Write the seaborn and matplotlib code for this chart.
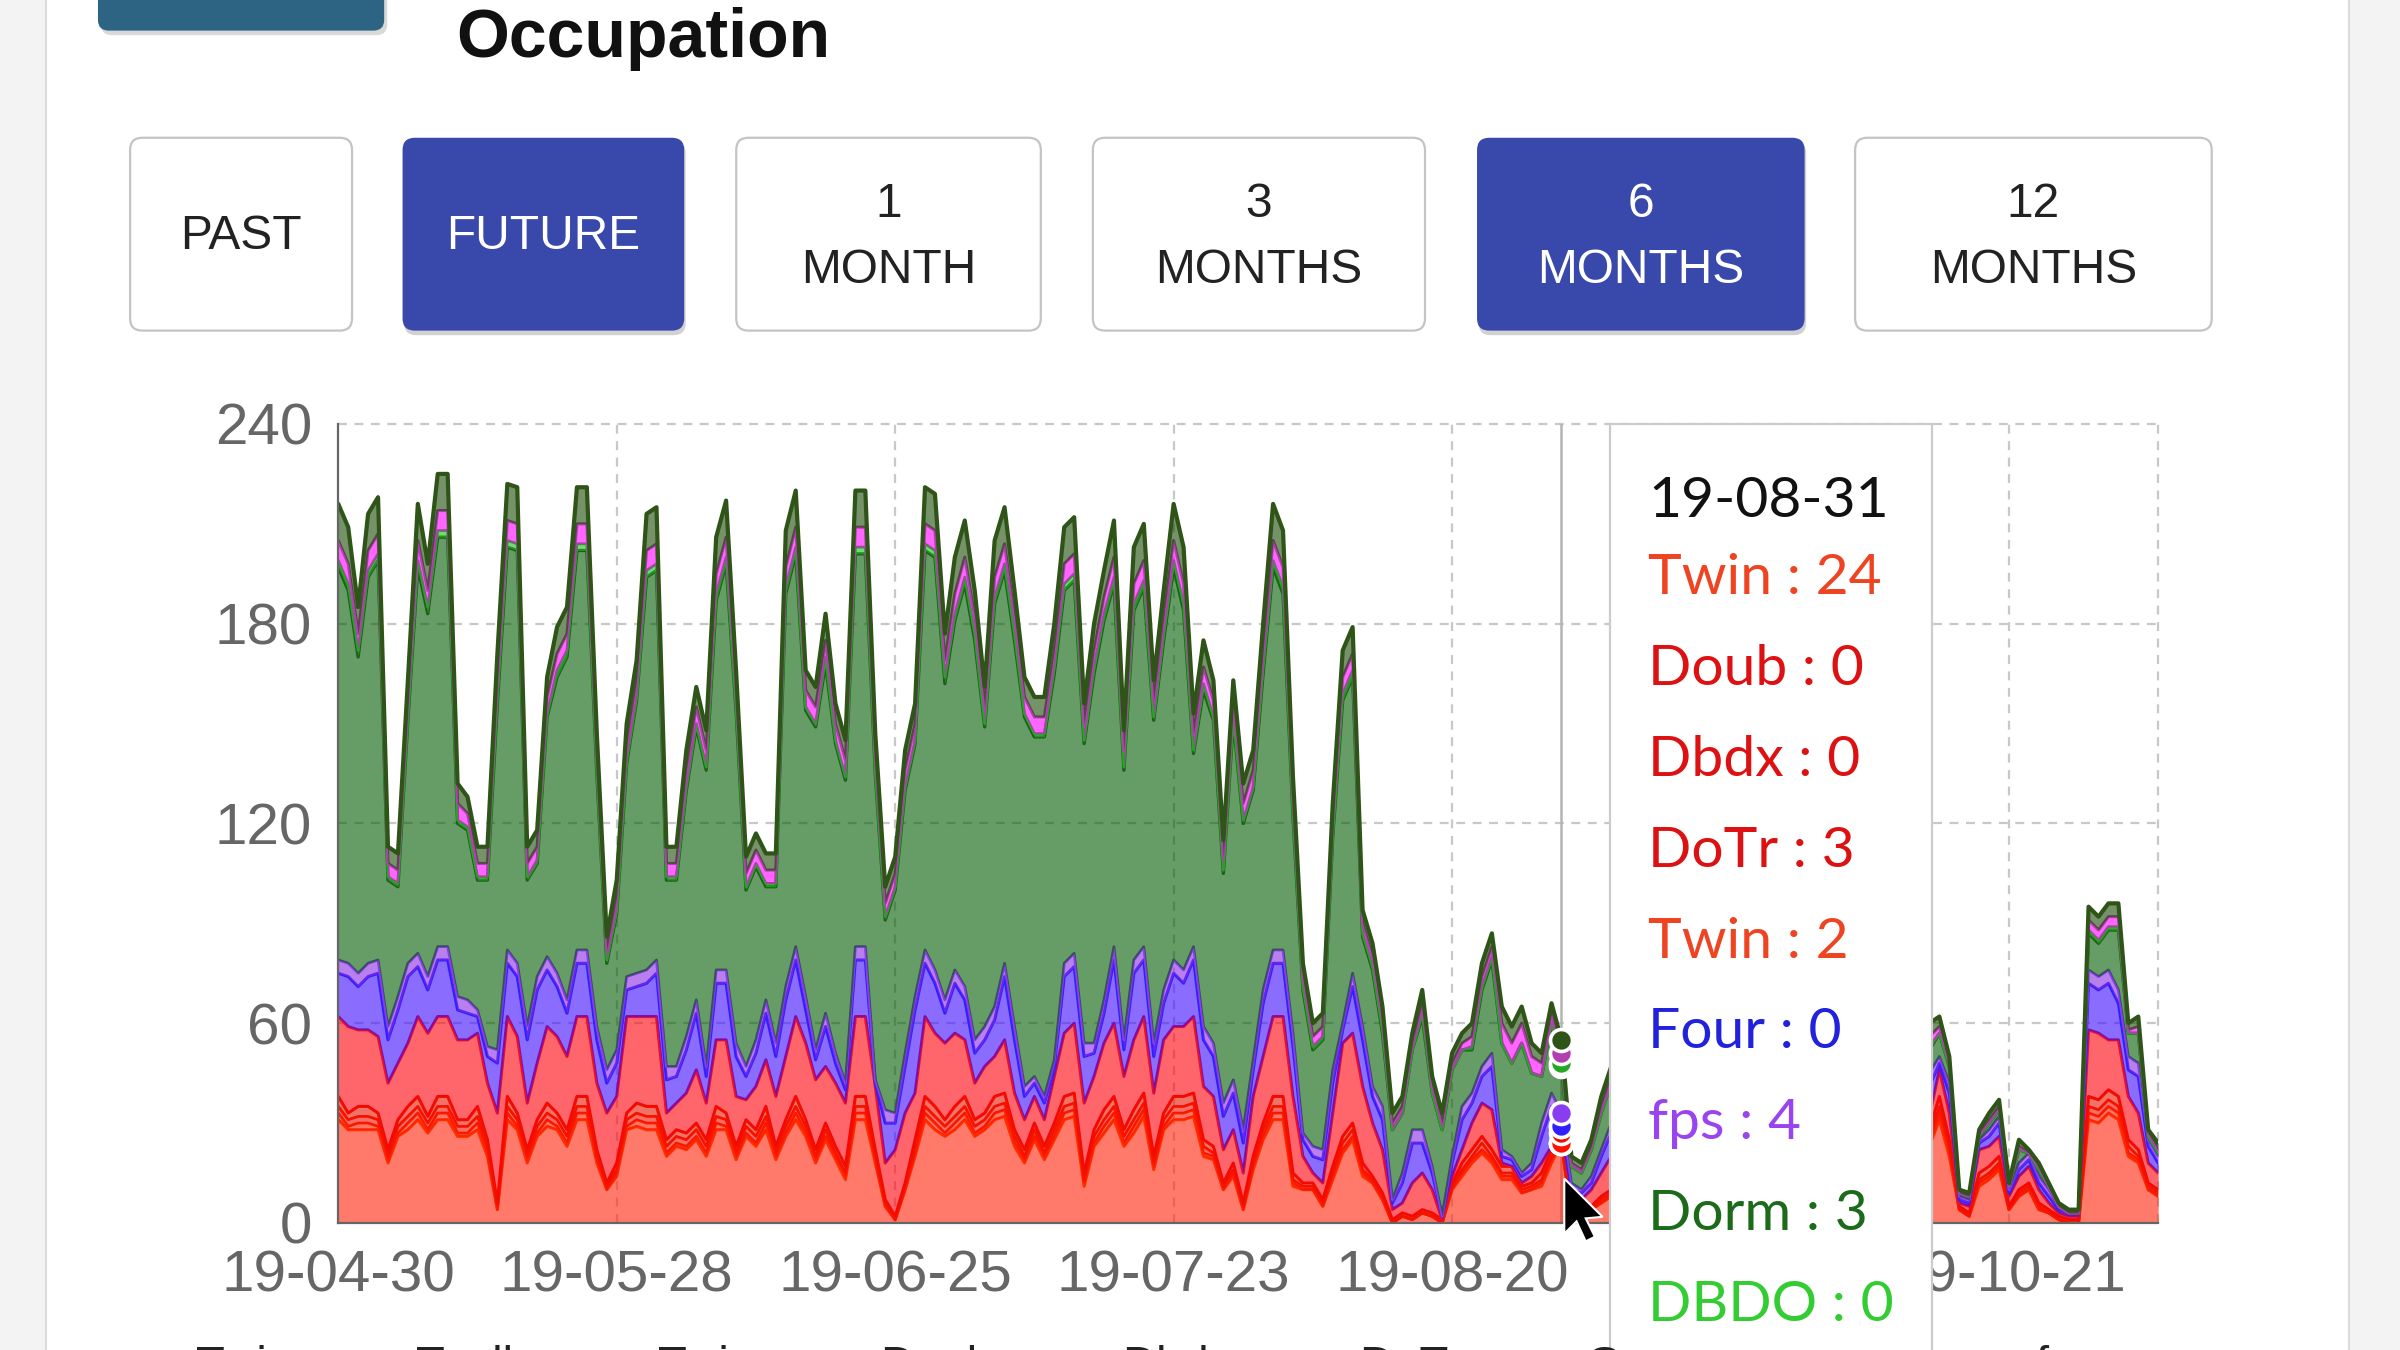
import numpy as np
import matplotlib
matplotlib.use("Agg")
import matplotlib.pyplot as plt
from matplotlib.patches import FancyBboxPatch, Rectangle, Polygon
import seaborn as sns

# daily stacked occupation, 184 days starting 19-04-30 (bottom layer first)
twin_a = [31,28,28,28,28,18,26,28,31,27, 31,31,26,26,28,20,4,31,28,18,
          26,29,28,23,31,31,18,10,14,28, 29,28,28,20,23,22,25,20,28,28,
          19,26,23,28,19,26,31,26,18,25, 19,13,31,31,18,5,1,10,20,31,
          28,26,28,31,26,28,31,32,23,18, 25,19,25,31,32,11,23,27,31,23,
          27,32,16,28,31,31,32,20,19,10, 14,4,16,25,31,31,11,10,10,5,
          13,21,25,14,12,7,0,2,1,3, 2,0,10,14,18,21,18,13,13,9,
          10,11,18,24,2,2,4,6,8,12, 12,10,7,5,9,11,13,11,8,6,
          10,12,14,12,8,6,10,12,14,12, 9,7,11,13,15,11,9,7,10,11,
          23,31,20,4,2,11,13,16,4,8, 10,4,3,1,0,0,31,30,33,31,
          20,18,10,8]
doub = [2,1,2,2,1,1,1,2,2,1, 2,2,1,1,2,1,0,2,1,1, 1,2,1,1,2,2,1,0,1,1,
        2,2,2,1,1,1,1,1,2,1, 1,1,1,2,1,1,2,1,1,1, 1,1,2,2,1,0,0,0,1,2,
        2,1,2,2,1,1,2,2,1,1, 1,1,1,2,2,1,1,2,2,1, 2,2,1,1,2,2,2,1,1,0,
        1,0,1,1,2,2,1,0,0,0, 1,1,1,1,0,0,0,0,0,0, 0,0,0,1,1,1,1,1,1,0,
        0,1,1,0,0,0,0,0,0,0, 1,0,0,0,0,1,1,0,0,0, 0,1,1,0,0,0,0,1,1,0,
        0,0,0,1,1,1,0,0,0,1, 1,2,1,0,0,1,1,1,0,0, 0,0,0,0,0,0,2,2,2,2,
        1,1,0,0]
dbdx = [2,2,2,2,2,1,2,2,2,2, 2,2,2,2,2,2,1,2,2,1, 2,2,2,2,2,2,1,1,1,2,
        2,2,2,2,2,2,2,2,2,2, 1,2,2,2,1,2,2,2,1,2, 1,1,2,2,1,1,0,1,2,2,
        2,2,2,2,2,2,2,2,2,1, 2,1,2,2,2,1,2,2,2,2, 2,2,1,2,2,2,2,2,1,1,
        1,1,1,2,2,2,1,1,1,1, 1,2,2,1,1,1,0,0,0,0, 0,0,1,1,1,2,1,1,1,1,
        1,1,1,0,0,0,0,1,1,1, 1,1,1,1,1,1,1,1,1,1, 1,1,1,1,1,1,1,1,1,1,
        1,1,1,1,1,1,1,1,1,1, 2,2,2,0,0,1,1,1,0,1, 1,1,0,0,0,0,2,2,2,2,
        2,1,1,1]
dotr = [3,2,3,3,2,2,2,3,3,2, 3,3,2,2,3,2,1,3,2,2, 2,3,2,2,3,3,2,1,2,2,
        3,3,3,2,2,2,2,2,3,2, 2,2,2,3,2,2,3,2,2,2, 2,2,3,3,2,1,1,1,2,3,
        3,2,3,3,2,2,3,3,2,2, 2,2,2,3,3,2,2,3,3,2, 3,3,2,2,3,3,3,2,2,1,
        2,1,2,2,3,3,2,1,1,1, 2,2,2,2,1,1,1,1,1,1, 1,1,1,2,2,2,2,2,2,1,
        1,2,2,3,1,1,1,1,1,1, 2,1,1,1,1,2,2,1,1,1, 1,2,2,1,1,1,1,2,2,1,
        1,1,1,2,2,2,1,1,1,2, 2,3,2,1,1,2,2,2,1,1, 1,1,1,1,1,1,3,3,3,3,
        2,2,1,1]
twin_b = [24,26,23,23,23,20,17,19,24,25, 24,24,24,24,22,17,27,24,23,14,
          17,23,23,22,24,24,20,21,20,29, 26,27,27,8,8,12,16,11,20,22,
          15,6,13,14,15,19,24,23,21,17, 19,19,24,24,19,11,20,21,14,24,
          22,23,22,17,11,14,12,16,11,9, 8,8,14,19,21,21,16,20,22,16,
          21,23,19,22,21,21,23,16,15,10, 10,9,18,20,24,24,23,8,3,5,
          16,28,27,23,16,13,3,3,10,11, 7,0,2,4,8,10,12,1,0,1,
          2,3,1,2,5,4,5,7,10,11, 12,10,7,5,8,11,13,10,7,5,
          9,12,13,10,8,6,10,12,14,11, 8,6,10,12,14,11,9,7,10,12,
          4,8,8,1,2,7,6,6,3,4, 5,4,2,1,1,1,20,20,15,17,
          13,11,6,5]
four = [13,15,13,16,19,13,16,20,15,13, 17,17,9,8,5,8,15,16,18,19,
        22,17,15,13,16,16,13,9,10,8, 9,10,13,10,8,13,17,8,17,17,
        12,7,10,14,12,17,17,10,6,12, 6,4,17,17,1,12,8,14,25,16,
        15,9,15,12,9,8,11,19,16,7, 4,5,3,17,17,14,7,9,19,8,
        20,17,11,11,16,13,17,14,12,10, 11,9,8,16,16,16,15,5,5,7,
        9,4,14,14,8,9,2,6,12,9, 5,1,4,9,6,8,13,2,2,2,
        2,8,12,0,2,2,2,5,7,7, 8,7,5,4,6,8,8,7,5,5,
        6,8,9,8,6,5,7,8,9,8, 6,5,7,8,9,8,6,5,7,8,
        9,2,6,1,1,2,3,4,1,2, 2,2,2,1,1,1,14,13,17,11,
        8,11,5,3]
fps = [4,4,4,4,4,4,4,4,4,4, 4,4,4,4,2,3,4,4,4,4, 4,4,4,4,4,4,4,4,4,4,
       4,4,4,4,3,4,4,3,4,4, 4,3,4,4,4,4,4,4,3,4, 3,2,4,4,1,4,3,4,4,4,
       4,4,4,4,4,4,4,4,4,3, 2,2,2,4,4,4,3,4,4,3, 4,4,4,4,4,4,4,4,4,4,
       4,4,3,4,4,4,4,2,3,3, 4,2,4,4,3,4,1,3,4,4, 2,0,2,4,3,3,4,2,1,1,
       2,4,4,4,2,1,2,2,3,3, 4,3,3,2,3,4,4,3,3,2, 3,4,4,3,3,3,3,4,4,3,
       3,2,3,4,4,3,3,3,3,3, 4,2,3,1,1,1,2,2,1,2, 2,2,2,1,0,0,4,4,4,4,
       4,4,2,2]
dorm = [118,112,95,116,120,44,33,73,116,109, 123,123,52,51,39,50,104,121,124,44,
        34,72,89,103,120,120,76,32,41,64, 82,118,117,56,56,74,82,89,111,122,
        100,53,52,34,47,118,118,86,97,105, 93,91,118,118,92,57,67,79,76,120,
        124,95,105,121,120,90,121,118,116,111, 102,108,116,112,112,90,111,114,109,81,
        105,108,97,105,118,108,58,101,97,69, 108,92,81,95,115,107,65,43,29,33,
        70,97,89,27,35,22,21,18,24,34, 22,26,26,17,13,23,28,32,28,39,
        27,14,21,14,5,5,8,11,12,15, 14,13,9,7,12,15,14,14,10,7,
        13,12,14,15,10,8,13,14,15,15, 11,9,14,14,16,16,11,9,13,15,
        7,7,5,1,1,1,2,2,1,4, 0,2,1,0,0,0,11,10,12,18,
        7,9,1,1]
dbdo = [2,2,2,2,2,1,1,1,2,2, 2,2,1,1,1,1,2,2,2,1, 1,1,2,2,2,2,1,1,1,1,
        1,2,2,1,1,1,1,1,2,2, 1,1,1,1,1,2,2,1,1,2, 1,1,2,2,1,1,1,1,1,2,
        2,2,2,2,2,1,2,2,2,1, 1,1,2,2,2,1,2,2,2,1, 2,2,1,2,2,2,1,2,1,1,
        1,1,1,2,2,2,1,1,1,1, 1,2,2,1,1,1,0,0,0,1, 0,0,0,0,1,1,1,0,0,0,
        0,0,0,1,0,0,0,0,0,0, 1,0,0,0,0,0,1,0,0,0, 0,1,1,0,0,0,0,1,1,0,
        0,0,0,1,1,0,0,0,0,0, 1,0,0,0,0,0,0,0,0,0, 0,0,0,0,0,0,1,1,1,1,
        0,0,0,0]
trip = [6,6,5,6,6,4,4,5,6,5, 6,6,5,4,4,4,5,6,6,4, 4,5,5,5,6,6,5,3,4,5,
        5,6,6,4,4,5,5,5,6,6, 5,4,4,4,4,6,6,5,5,5, 5,5,6,6,5,4,4,5,5,6,
        6,5,6,6,5,5,6,6,5,5, 5,5,5,6,6,5,5,5,6,5, 6,6,5,5,6,6,5,5,5,4,
        5,5,5,5,6,6,5,3,3,3, 4,5,5,3,3,3,2,2,2,3, 2,2,2,2,3,3,3,6,6,6,
        5,4,3,3,1,1,1,2,2,2, 3,2,2,2,2,2,3,2,2,2, 2,3,3,2,2,2,2,3,3,2,
        2,2,2,3,3,2,2,2,2,2, 3,2,1,0,0,1,1,1,0,1, 0,1,0,0,0,0,3,3,3,3,
        1,2,1,1]
tail = [11,11,8,11,11,5,5,6,11,8, 11,11,6,5,5,5,8,11,11,5, 5,6,8,8,11,11,6,4,5,6,
        6,11,11,5,5,6,6,6,11,11, 6,5,5,5,5,11,11,6,6,8, 6,6,11,11,6,5,5,6,6,11,
        11,8,11,11,8,6,11,11,8,6, 6,6,8,11,11,6,8,8,11,6, 11,11,6,8,11,11,6,8,6,5,
        6,6,6,8,11,11,6,4,4,4, 5,8,8,4,4,4,3,3,3,4, 3,3,3,3,4,4,4,5,5,5,
        4,3,3,4,2,2,2,3,3,3, 4,3,3,3,3,3,4,3,3,3, 3,4,4,3,3,3,3,4,4,3,
        3,3,3,4,4,3,3,3,3,3, 4,3,2,1,1,1,2,2,1,2, 1,1,1,1,1,1,4,4,4,4,
        2,3,1,2]

series = [twin_a, doub, dbdx, dotr, twin_b, four, fps, dorm, dbdo, trip, tail]
fill_colors = ["#ff2208", "#ff1a00", "#f01000", "#e81400", "#ff0008", "#3c0cff",
               "#8a2be2", "#005c00", "#22bb22", "#ff00ff", "#1a4a05"]
line_colors = ["#ff3300", "#ff2200", "#ff1100", "#ee1100", "#e8102a", "#3020ff",
               "#8a3cf0", "#1f5e1a", "#22a822", "#b040b0", "#2f5418"]
line_widths = [2.2, 2.0, 2.0, 2.2, 2.2, 2.2, 2.0, 2.4, 2.0, 2.2, 3.0]

x_tick_pos = [0, 28, 56, 84, 112, 140, 168]
x_tick_labels = ["19-04-30", "19-05-28", "19-06-25", "19-07-23", "19-08-20", "19-09-17", "19-10-21"]
y_ticks = [0, 60, 120, 180, 240]

hover_idx = 123
tip_date = "19-08-31"
tip_labels = ["Twin : 24", "Doub : 0", "Dbdx : 0", "DoTr : 3", "Twin : 2",
              "Four : 0", "fps : 4", "Dorm : 3", "DBDO : 0"]
tip_colors = ["#ee4422", "#dd1111", "#dd1111", "#dd1111", "#ee4422",
              "#2222dd", "#9944ee", "#1b6b1b", "#33cc33"]

buttons = ["PAST", "FUTURE", "1\nMONTH", "3\nMONTHS", "6\nMONTHS", "12\nMONTHS"]
button_on = [False, True, False, False, True, False]
button_x = [(85, 230), (263, 447), (481, 680), (714, 931), (965, 1179), (1212, 1445)]

legend_labels = ["Twin", "Twdb", "Twin", "Doub", "Dbdx", "DoTr", "Grup", "fps"]
legend_x = [128, 272, 430, 575, 733, 888, 1036, 1330]

sns.set_theme(style="white")
plt.rcParams["font.family"] = ["Liberation Sans", "DejaVu Sans"]

W, H = 1568, 882  # layout in screen units
fig = plt.figure(figsize=(24, 13.5), dpi=100)
fig.patch.set_facecolor("white")
ax = fig.add_axes([221 / W, 1 - 799 / H, (1410 - 221) / W, (799 - 277) / H])
ax.patch.set_alpha(0)

x = np.arange(len(twin_a))
vals = np.array(series, dtype=float)
tops = np.cumsum(vals, axis=0)
bottoms = np.vstack([np.zeros(len(x)), tops[:-1]])

# grid and hover cursor under the areas
grid_kw = dict(color="#c8c8c8", lw=1.6, ls=(0, (4, 3.4)), zorder=0)
for yv in y_ticks[1:]:
    ax.axhline(yv, clip_on=False, **grid_kw)
for xv in x_tick_pos[1:] + [len(x) - 1]:
    ax.axvline(xv, clip_on=False, **grid_kw)
ax.axvline(hover_idx, color="#b4b4b4", lw=1.8, zorder=1)

for lo, hi, fc, lc, lw in zip(bottoms, tops, fill_colors, line_colors, line_widths):
    ax.fill_between(x, lo, hi, color=fc, alpha=0.6, lw=0, zorder=2)
    sns.lineplot(x=x, y=hi, color=lc, lw=lw, ax=ax, zorder=2)

# active dots at hovered day
for hi, lc in zip(tops, line_colors):
    ax.scatter([hover_idx], [hi[hover_idx]], s=250, color=lc, edgecolor="white",
               linewidth=2.6, zorder=4)

ax.set_xlim(0, len(x) - 1)
ax.set_ylim(0, 240)
ax.set_xticks(x_tick_pos)
ax.set_xticklabels(x_tick_labels)
ax.set_yticks(y_ticks)
ax.tick_params(axis="both", length=15, width=1.6, color="#666666",
               labelcolor="#666666", labelsize=42, pad=4, direction="out")
for side in ["top", "right"]:
    ax.spines[side].set_visible(False)
for side in ["left", "bottom"]:
    ax.spines[side].set_color("#666666")
    ax.spines[side].set_linewidth(1.6)
ax.set_xlabel("")
ax.set_ylabel("")

# page furniture in screen units
ov = fig.add_axes([0, 0, 1, 1], zorder=5)
ov.set_xlim(0, W)
ov.set_ylim(H, 0)
ov.axis("off")
ov.patch.set_alpha(0)

ov.add_patch(Rectangle((0, 0), 30, H, color="#f3f3f3", lw=0))
ov.add_patch(Rectangle((1535, 0), W - 1535, H, color="#f3f3f3", lw=0))
ov.plot([30, 30], [0, H], color="#dcdcdc", lw=1.5)
ov.plot([1535, 1535], [0, H], color="#dcdcdc", lw=1.5)

ov.add_patch(FancyBboxPatch((66, -30), 187, 53, boxstyle="round,pad=0,rounding_size=7",
                            fc="#000000", alpha=0.15, lw=0))
ov.add_patch(FancyBboxPatch((64, -30), 187, 50, boxstyle="round,pad=0,rounding_size=7",
                            fc="#2d6483", lw=0))
ov.text(298, 37, "Occupation", fontsize=49, fontweight="bold", color="#111111",
        va="baseline", ha="left")

for label, on, (x0, x1) in zip(buttons, button_on, button_x):
    if on:
        ov.add_patch(FancyBboxPatch((x0 + 1, 92), x1 - x0, 127,
                                    boxstyle="round,pad=0,rounding_size=8",
                                    fc="#000000", alpha=0.18, lw=0))
        ov.add_patch(FancyBboxPatch((x0, 90), x1 - x0, 126,
                                    boxstyle="round,pad=0,rounding_size=8",
                                    fc="#3949ab", lw=0))
        tc = "white"
    else:
        ov.add_patch(FancyBboxPatch((x0, 90), x1 - x0, 126,
                                    boxstyle="round,pad=0,rounding_size=8",
                                    fc="white", ec="#c4c4c4", lw=1.6))
        tc = "#222222"
    cx = (x0 + x1) / 2
    parts = label.split("\n")
    if len(parts) == 1:
        ov.text(cx, 163, parts[0], fontsize=34.5, color=tc, ha="center", va="baseline")
    else:
        ov.text(cx, 142, parts[0], fontsize=34.5, color=tc, ha="center", va="baseline")
        ov.text(cx, 185, parts[1], fontsize=34.5, color=tc, ha="center", va="baseline")

# tooltip
ov.add_patch(Rectangle((1052, 277), 210, 700, fc="white", ec="#cccccc", lw=1.6))
tip_font = ["Lato", "DejaVu Sans"]
ov.text(1077, 338, tip_date, fontsize=41, color="#111111", va="baseline",
        family=tip_font)
for k, (txt, col) in enumerate(zip(tip_labels, tip_colors)):
    ov.text(1077, 388 + 59.4 * k, txt, fontsize=41, color=col, va="baseline",
            family=tip_font)

# mouse pointer
tip_x, tip_y = 1022, 770
shape = [(0, 0), (0, 36), (8, 28), (14, 41), (20, 38), (14, 26), (25, 25)]
ov.add_patch(Polygon([(tip_x + a, tip_y + b) for a, b in shape], closed=True,
                     fc="black", ec="white", lw=1.5))

# legend row, cut off by the bottom edge
for lab, lx in zip(legend_labels, legend_x):
    ov.text(lx, 901, lab, fontsize=34, color="#222222", va="baseline", ha="left")

fig.savefig("out.png", dpi=100)
